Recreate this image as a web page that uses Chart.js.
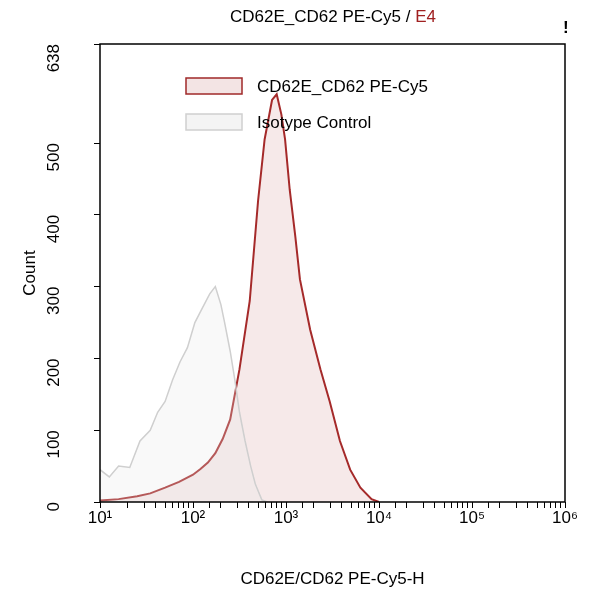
<!DOCTYPE html>
<html>
<head>
<script src="https://cdn.jsdelivr.net/npm/chart.js@4"></script>
<style>
  body { margin: 0; background: #fff; }
  #wrap { width: 593px; height: 600px; }
</style>
</head>
<body>
<div id="wrap"><canvas id="c"></canvas></div>
<script>
// log10 of fluorescence and counts
const sampleX = [1.0, 1.2, 1.4, 1.54, 1.7, 1.85, 2.0, 2.08, 2.16, 2.24, 2.32, 2.40, 2.5, 2.61, 2.70, 2.77, 2.85, 2.90, 2.95, 2.99, 3.04, 3.10, 3.15, 3.26, 3.37, 3.47, 3.58, 3.69, 3.80, 3.92, 4.0];
const sampleY = [2, 4, 8, 12, 20, 28, 38, 46, 55, 68, 88, 115, 185, 280, 420, 505, 560, 568, 540, 505, 435, 370, 310, 240, 185, 140, 85, 45, 20, 4, 0];
const isoX = [1.0, 1.1, 1.2, 1.32, 1.43, 1.54, 1.62, 1.70, 1.78, 1.86, 1.94, 2.02, 2.10, 2.18, 2.24, 2.30, 2.34, 2.40, 2.45, 2.50, 2.56, 2.62, 2.67, 2.74, 2.8];
const isoY = [45, 35, 50, 48, 85, 100, 125, 140, 170, 195, 215, 250, 270, 290, 300, 275, 250, 210, 170, 125, 85, 50, 25, 3, 0];
const yTicks = [0, 100, 200, 300, 400, 500, 638];
const xTicks = [1, 2, 3, 4, 5, 6];
const sup = ['⁰','¹','²','³','⁴','⁵','⁶'];

const toPts = (xs, ys) => xs.map((x, i) => ({ x: Math.pow(10, x), y: ys[i] }));
const font = { size: 17, family: '"Liberation Sans", Arial' };

const decor = {
  id: 'decor',
  afterDraw(chart) {
    const { ctx, chartArea: a } = chart;
    ctx.save();
    ctx.strokeStyle = '#000';
    ctx.lineWidth = 1.5;
    ctx.strokeRect(a.left, a.top, a.right - a.left, a.bottom - a.top);
    // title
    ctx.font = '17px "Liberation Sans", Arial';
    ctx.textBaseline = 'middle';
    const t1 = 'CD62E_CD62 PE-Cy5 / ', t2 = 'E4';
    const w = ctx.measureText(t1 + t2).width;
    let x0 = 333 - w / 2;
    ctx.fillStyle = '#000';
    ctx.textAlign = 'left';
    ctx.fillText(t1, x0, 17);
    ctx.fillStyle = '#a02020';
    ctx.fillText(t2, x0 + ctx.measureText(t1).width, 17);
    ctx.fillStyle = '#000';
    ctx.font = 'bold 17px "Liberation Sans", Arial';
    ctx.fillText('!', 563, 28);
    // legend
    ctx.font = '17px "Liberation Sans", Arial';
    ctx.fillStyle = 'rgba(160,30,30,0.12)';
    ctx.fillRect(186, 78, 56, 16);
    ctx.strokeStyle = '#a02828'; ctx.lineWidth = 1.5;
    ctx.strokeRect(186, 78, 56, 16);
    ctx.fillStyle = 'rgba(220,220,220,0.3)';
    ctx.fillRect(186, 114, 56, 16);
    ctx.strokeStyle = '#d0d0d0';
    ctx.strokeRect(186, 114, 56, 16);
    ctx.fillStyle = '#000';
    ctx.fillText('CD62E_CD62 PE-Cy5', 257, 87);
    ctx.fillText('Isotype Control', 257, 123);
    ctx.restore();
  }
};

new Chart(document.getElementById('c'), {
  type: 'line',
  data: {
    datasets: [
      { label: 'Isotype Control', data: toPts(isoX, isoY), borderColor: '#cfcfcf', borderWidth: 1.5,
        backgroundColor: 'rgba(230,230,230,0.25)', fill: 'origin', pointRadius: 0, tension: 0 },
      { label: 'CD62E_CD62 PE-Cy5', data: toPts(sampleX, sampleY), borderColor: '#a52a2a', borderWidth: 2,
        backgroundColor: 'rgba(165,42,42,0.1)', fill: 'origin', pointRadius: 0, tension: 0 }
    ]
  },
  options: {
    responsive: true,
    maintainAspectRatio: false,
    animation: false,
    layout: { padding: { top: 44, right: 28, left: 16, bottom: 6 } },
    plugins: { legend: { display: false }, tooltip: { enabled: false } },
    scales: {
      x: {
        type: 'logarithmic', min: 10, max: 1e6,
        grid: { display: true, drawOnChartArea: false, drawTicks: true, tickLength: 6, color: '#000', lineWidth: 1 },
        border: { display: false },
        ticks: {
          color: '#000', font, autoSkip: false, maxRotation: 0, padding: 0,
          callback: v => { const l = Math.log10(v); return Math.abs(l - Math.round(l)) < 1e-9 && xTicks.includes(Math.round(l)) ? '10' + sup[Math.round(l)] : ''; }
        },
        title: { display: true, text: 'CD62E/CD62 PE-Cy5-H', color: '#000', font, padding: { top: 8 } },
        afterFit: s => { s.height = 92; s.paddingLeft = 0; s.paddingRight = 0; }
      },
      y: {
        min: 0, max: 638,
        afterBuildTicks: s => { s.ticks = yTicks.map(v => ({ value: v })); },
        grid: { display: true, drawOnChartArea: false, drawTicks: true, tickLength: 6, color: '#000', lineWidth: 1 },
        border: { display: false },
        ticks: { color: '#000', minRotation: 90, maxRotation: 90, padding: 40, font },
        title: { display: true, text: 'Count', color: '#000', font },
        afterFit: s => { s.width = 84; s.paddingTop = 0; s.paddingBottom = 0; }
      }
    }
  },
  plugins: [decor]
});
</script>
</body>
</html>
